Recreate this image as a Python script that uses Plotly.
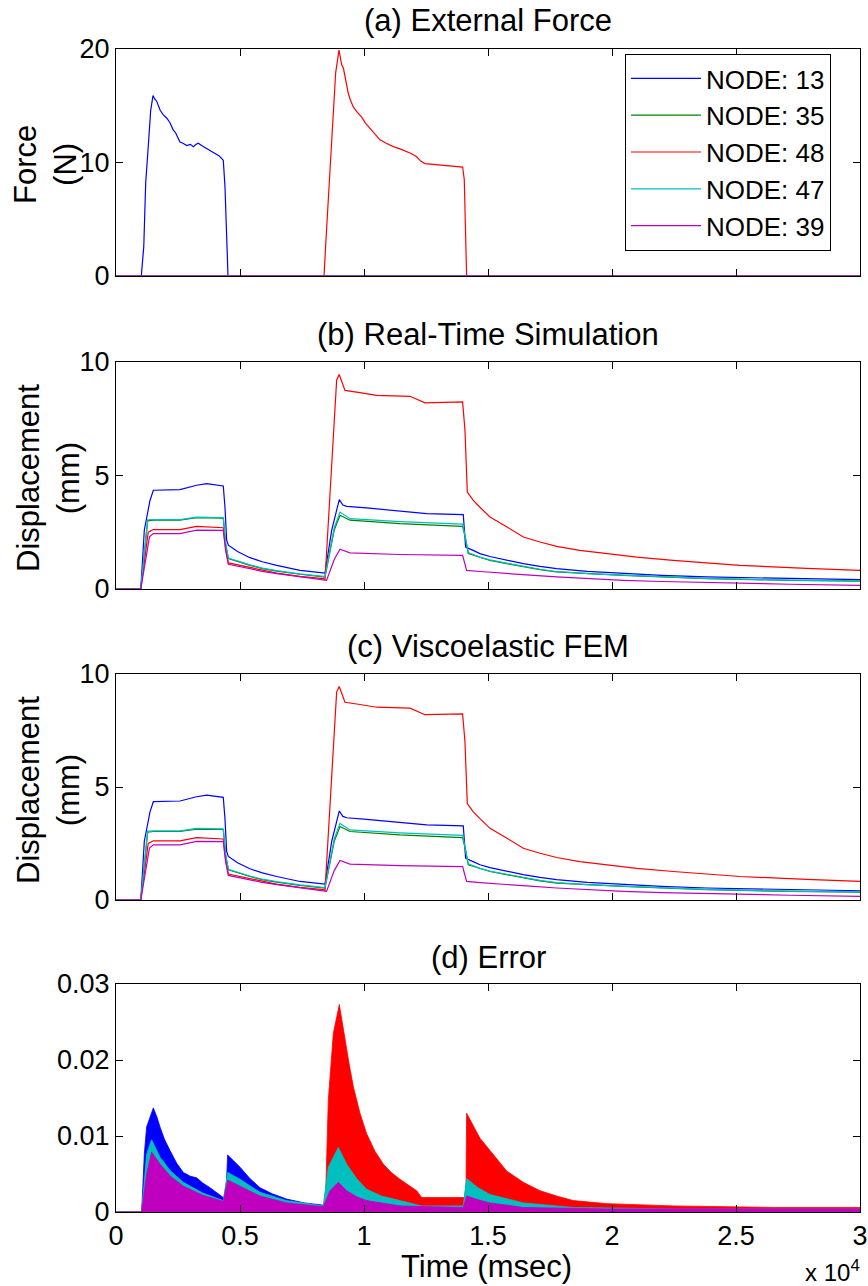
import plotly.graph_objects as go

# ---------------- data ----------------
nodes = ["NODE: 13", "NODE: 35", "NODE: 48", "NODE: 47", "NODE: 39"]
colors = ["rgb(0,0,255)", "rgb(0,128,0)", "rgb(255,0,0)", "rgb(0,191,191)", "rgb(191,0,191)"]

x_tickvals = [0, 5000, 10000, 15000, 20000, 25000, 30000]
x_ticktext = ["0", "0.5", "1", "1.5", "2", "2.5", "3"]

# (a) external force (N)
t_force_13 = [0, 1020, 1120, 1197, 1303, 1399, 1492, 1560, 1641, 1780, 1908, 2050, 2177, 2300, 2406, 2500,
              2580, 2700, 2850, 3000, 3118, 3230, 3319, 3450, 3656, 3800, 3992, 4150, 4326, 4394, 4463,
              4516, 30000]
force_13 = [0, 0, 2.6, 8.2, 11.5, 14.6, 15.9, 15.6, 15.4, 14.6, 14.2, 13.9, 13.5, 12.9, 12.6, 12.1,
            11.8, 11.7, 11.5, 11.6, 11.4, 11.6, 11.7, 11.5, 11.25, 11.1, 10.8, 10.6, 10.2, 7.9, 4.05,
            0, 0]
t_force_48 = [0, 8387, 8467, 8560, 8656, 8762, 8857, 8991, 9040, 9100, 9170, 9233, 9300, 9367, 9450, 9568,
              9700, 9907, 10050, 10241, 10450, 10644, 10900, 11181, 11450, 11719, 11900, 12122, 12300,
              12458, 12700, 13064, 13300, 13601, 13976, 14043, 14098, 14138, 30000]
force_48 = [0, 0, 3.2, 6.7, 10.5, 14.9, 17.9, 19.9, 19.3, 18.6, 18.3, 17.6, 16.7, 16.1, 15.5, 14.9,
            14.5, 14.0, 13.5, 13.0, 12.5, 12.0, 11.7, 11.4, 11.2, 10.95, 10.8, 10.5, 10.1,
            9.9, 9.85, 9.8, 9.75, 9.7, 9.6, 8.5, 4.6, 0, 0]
t_force_zero = [0, 30000]
force_zero = [0, 0]

# (b) real-time simulation displacement (mm)
t_rt_13 = [0, 1000, 1142, 1371, 1505, 2580, 3252, 3656, 4326, 4394, 4463, 4530, 4900, 5402, 5900, 6479,
           7420, 8360, 8427, 8700, 9004, 9150, 9301, 10107, 11451, 12526, 14003, 14098, 14400, 14676,
           15080, 15751, 16424, 17096, 17767, 19000, 20455, 22000, 23815, 27175, 30000]
rt_13 = [0, 0, 2.6, 3.9, 4.35, 4.38, 4.57, 4.64, 4.54, 3.6, 2.15, 1.93, 1.65, 1.38, 1.2, 1.04,
         0.82, 0.70, 0.70, 2.6, 3.94, 3.7, 3.64, 3.57, 3.44, 3.32, 3.28, 1.85, 1.7, 1.56,
         1.43, 1.26, 1.12, 1.0, 0.90, 0.78, 0.68, 0.60, 0.53, 0.46, 0.41]
t_rt_35 = [0, 1000, 1277, 1505, 2580, 3252, 4326, 4420, 4530, 4900, 5402, 5900, 6479, 7420, 8360, 8427,
           8800, 9032, 9435, 11451, 13976, 14100, 14205, 14676, 15080, 15751, 16424, 17096, 17767, 19000,
           20455, 22000, 23815, 27175, 30000]
rt_35 = [0, 0, 3.0, 3.03, 3.03, 3.14, 3.12, 2.0, 1.34, 1.2, 1.04, 0.9, 0.79, 0.65, 0.53, 0.53,
         2.6, 3.25, 3.03, 2.88, 2.76, 2.2, 1.56, 1.38, 1.26, 1.12, 0.98, 0.85, 0.75, 0.67,
         0.60, 0.53, 0.46, 0.38, 0.35]
t_rt_48 = [0, 1000, 1300, 1505, 2580, 3252, 4326, 4420, 4530, 4900, 5402, 5900, 6479, 7420, 8360, 8427,
           8696, 8897, 9000, 9233, 9838, 10510, 11854, 12459, 13976, 14071, 14165, 14407, 14676, 15080,
           15751, 16424, 17096, 17767, 18700, 19784, 21000, 22471, 23800, 25158, 27846, 30000]
rt_48 = [0, 0, 2.5, 2.62, 2.62, 2.76, 2.70, 1.8, 1.15, 1.06, 0.97, 0.82, 0.70, 0.56, 0.46, 0.41,
         5.5, 9.2, 9.45, 8.75, 8.65, 8.53, 8.49, 8.2, 8.24, 7.0, 4.27, 3.9, 3.6, 3.17,
         2.74, 2.29, 2.07, 1.88, 1.7, 1.56, 1.4, 1.26, 1.15, 1.04, 0.91, 0.82]
t_rt_47 = [0, 1000, 1277, 1505, 2580, 3252, 4326, 4420, 4530, 4900, 5402, 5900, 6479, 7420, 8360, 8427,
           8800, 9032, 9435, 11451, 13976, 14100, 14205, 14676, 15080, 15751, 16424, 17096, 17767, 19000,
           20455, 22000, 23815, 27175, 30000]
rt_47 = [0, 0, 3.05, 3.06, 3.06, 3.17, 3.15, 2.0, 1.36, 1.22, 1.06, 0.92, 0.81, 0.67, 0.55, 0.55,
         2.7, 3.39, 3.10, 2.97, 2.86, 2.2, 1.60, 1.40, 1.28, 1.14, 1.0, 0.87, 0.77, 0.68,
         0.61, 0.54, 0.47, 0.39, 0.36]
t_rt_39 = [0, 1000, 1350, 1505, 2580, 3252, 4326, 4420, 4530, 4900, 5402, 5900, 6479, 7420, 8360, 8490,
           8800, 9032, 9435, 11451, 13976, 14138, 14676, 15751, 16700, 17767, 19000, 20455, 22000, 23815,
           27175, 30000]
rt_39 = [0, 0, 2.3, 2.44, 2.44, 2.59, 2.58, 1.7, 1.09, 1.0, 0.90, 0.78, 0.68, 0.53, 0.38, 0.38,
         1.3, 1.75, 1.59, 1.52, 1.48, 0.82, 0.77, 0.70, 0.61, 0.53, 0.45, 0.38, 0.33, 0.28,
         0.21, 0.16]

# (c) viscoelastic FEM displacement (mm) -- visually identical to (b)
t_fem_13, fem_13 = list(t_rt_13), list(rt_13)
t_fem_35, fem_35 = list(t_rt_35), list(rt_35)
t_fem_48, fem_48 = list(t_rt_48), list(rt_48)
t_fem_47, fem_47 = list(t_rt_47), list(rt_47)
t_fem_39, fem_39 = list(t_rt_39), list(rt_39)

# (d) error (envelopes)
t_err_13 = [0, 1035, 1142, 1236, 1505, 1650, 1774, 1950, 2177, 2450, 2715, 3000, 3252, 3500, 3790, 4050,
            4326, 4420, 4503, 4750, 5000, 5400, 5806, 6300, 6882, 7600, 8360, 8440, 8561, 9005, 9569,
            10106, 11451, 14003, 14138, 15751, 18440, 22471, 30000]
err_13 = [0, 0, 0.0076, 0.0112, 0.0137, 0.0125, 0.0112, 0.0096, 0.0081, 0.0064, 0.0052, 0.0047, 0.0045,
          0.0038, 0.0032, 0.0026, 0.0019, 0.0015, 0.0075, 0.0067, 0.0059, 0.0044, 0.0032, 0.0024, 0.0017,
          0.0012, 0.0009, 0.0006, 0.0030, 0.0060, 0.0040, 0.0025, 0.0012, 0.0008, 0.0030, 0.0012, 0.0006,
          0.0004, 0.0004]
t_err_35 = [0, 1035, 1236, 1435, 1774, 2200, 2715, 3500, 4326, 4503, 5000, 5806, 6882, 8360, 8561, 8965,
            9300, 9700, 10106, 10700, 11451, 12325, 14003, 14138, 14600, 15080, 16424, 18440, 22471, 30000]
err_35 = [0, 0, 0.0072, 0.0090, 0.0068, 0.0051, 0.0037, 0.0024, 0.0014, 0.0049, 0.0041, 0.0024, 0.0014,
          0.0007, 0.0055, 0.0080, 0.0060, 0.0042, 0.0028, 0.0020, 0.0014, 0.0007, 0.0007, 0.0041, 0.0030,
          0.0021, 0.0011, 0.0005, 0.0003, 0.0003]
t_err_48 = [0, 1035, 1236, 1435, 1774, 2715, 4326, 4503, 5000, 5806, 6882, 8360, 8440, 8561, 8763, 9005,
            9233, 9400, 9569, 9838, 10106, 10440, 10778, 11100, 11451, 11800, 12123, 12325, 14003, 14110,
            14138, 14407, 14676, 15080, 15751, 16424, 17096, 17767, 18440, 19784, 22471, 26502, 30000]
err_48 = [0, 0, 0.0060, 0.0075, 0.0060, 0.0033, 0.0014, 0.0040, 0.0033, 0.0020, 0.0012, 0.0007, 0.0007,
          0.0147, 0.0235, 0.0273, 0.0226, 0.0195, 0.0165, 0.0130, 0.0103, 0.0080, 0.0063, 0.0052, 0.0043,
          0.0035, 0.0028, 0.0019, 0.0019, 0.0019, 0.0130, 0.0113, 0.0097, 0.0081, 0.0054, 0.0039, 0.0028,
          0.0021, 0.0015, 0.0011, 0.0008, 0.0006, 0.0006]
t_err_47 = [0, 1035, 1236, 1435, 1774, 2200, 2715, 3500, 4326, 4503, 5000, 5806, 6882, 8360, 8561, 8965,
            9300, 9700, 10106, 10700, 11451, 12325, 14003, 14138, 14600, 15080, 16424, 18440, 22471, 30000]
err_47 = [0, 0, 0.0076, 0.0095, 0.0072, 0.0054, 0.0039, 0.0025, 0.0015, 0.0052, 0.0043, 0.0026, 0.0015,
          0.0008, 0.0059, 0.0085, 0.0063, 0.0044, 0.0030, 0.0021, 0.0015, 0.0008, 0.0008, 0.0044, 0.0032,
          0.0023, 0.0012, 0.0006, 0.0004, 0.0004]
t_err_39 = [0, 1035, 1236, 1435, 1774, 2200, 2715, 3500, 4326, 4503, 5000, 5806, 6882, 8360, 8629, 8965,
            9300, 9700, 10106, 11451, 14003, 14138, 14600, 15080, 16424, 19784, 30000]
err_39 = [0, 0, 0.0050, 0.0079, 0.0063, 0.0047, 0.0034, 0.0022, 0.0014, 0.0042, 0.0034, 0.0021, 0.0012,
          0.0007, 0.0028, 0.0039, 0.0028, 0.0020, 0.0015, 0.0008, 0.0006, 0.0021, 0.0016, 0.0012, 0.0006,
          0.0004, 0.0004]

titles = ["(a) External Force", "(b) Real-Time Simulation", "(c) Viscoelastic FEM", "(d) Error"]

# ---------------- layout helpers ----------------
W, H = 868, 1286
ML, MR = 116, 8
FONT = "Liberation Sans, Arial, sans-serif"


def py(p):
    return 1 - p / H


def px(p):
    return (p - ML) / (W - ML - MR)


plot_tops = [49, 362, 674, 984]
plot_bots = [276, 589, 900, 1212]

fig = go.Figure()

force_sets = [(t_force_13, force_13), (t_force_zero, force_zero), (t_force_48, force_48),
              (t_force_zero, force_zero), (t_force_zero, force_zero)]
rt_sets = [(t_rt_13, rt_13), (t_rt_35, rt_35), (t_rt_48, rt_48), (t_rt_47, rt_47), (t_rt_39, rt_39)]
fem_sets = [(t_fem_13, fem_13), (t_fem_35, fem_35), (t_fem_48, fem_48), (t_fem_47, fem_47), (t_fem_39, fem_39)]
err_sets = [(t_err_13, err_13), (t_err_35, err_35), (t_err_48, err_48), (t_err_47, err_47), (t_err_39, err_39)]

for i, (tx, vy) in enumerate(force_sets):
    fig.add_trace(go.Scatter(x=tx, y=vy, mode="lines", name=nodes[i],
                             line=dict(color=colors[i], width=1.2),
                             xaxis="x", yaxis="y", showlegend=True))
for k, sets in enumerate([rt_sets, fem_sets]):
    for i, (tx, vy) in enumerate(sets):
        fig.add_trace(go.Scatter(x=tx, y=vy, mode="lines", name=nodes[i],
                                 line=dict(color=colors[i], width=1.2),
                                 xaxis="x%d" % (k + 2), yaxis="y%d" % (k + 2), showlegend=False))
for i, (tx, vy) in enumerate(err_sets):
    fig.add_trace(go.Scatter(x=tx, y=vy, mode="lines", name=nodes[i],
                             line=dict(color=colors[i], width=0.8), fill="tozeroy",
                             fillcolor=colors[i],
                             xaxis="x4", yaxis="y4", showlegend=False))

y_ranges = [[0, 20], [0, 10], [0, 10], [0, 0.03]]
y_ticks = [[0, 10, 20], [0, 5, 10], [0, 5, 10], [0, 0.01, 0.02, 0.03]]
y_ticktext = [["0", "10", "20"], ["0", "5", "10"], ["0", "5", "10"], ["0", "0.01", "0.02", "0.03"]]

layout = dict(
    width=W, height=H,
    margin=dict(l=ML, r=MR, t=0, b=0, pad=0),
    paper_bgcolor="white", plot_bgcolor="white",
    font=dict(family=FONT, size=27, color="black"),
    showlegend=True,
    legend=dict(x=px(625), y=py(54), xanchor="left", yanchor="top",
                bgcolor="white", bordercolor="black", borderwidth=1,
                font=dict(family=FONT, size=26, color="black"),
                tracegroupgap=0, itemwidth=70),
)

for k in range(4):
    sx = "" if k == 0 else str(k + 1)
    layout["xaxis" + sx] = dict(
        domain=[0, 1], anchor="y" + sx, range=[0, 30000],
        tickvals=x_tickvals, ticktext=x_ticktext, showticklabels=(k == 3),
        ticks="inside", ticklen=7, tickwidth=1, tickcolor="black",
        showline=True, linecolor="black", linewidth=1, mirror="ticks",
        showgrid=False, zeroline=False, automargin=False,
        tickfont=dict(family=FONT, size=27, color="black"),
    )
    layout["yaxis" + sx] = dict(
        domain=[py(plot_bots[k]), py(plot_tops[k])], anchor="x" + sx,
        range=y_ranges[k], tickvals=y_ticks[k], ticktext=y_ticktext[k],
        ticks="inside", ticklen=7, tickwidth=1, tickcolor="black",
        showline=True, linecolor="black", linewidth=1, mirror="ticks",
        showgrid=False, zeroline=False, automargin=False,
        tickfont=dict(family=FONT, size=27, color="black"),
        ticklabelstandoff=0,
    )

annotations = []
title_centers = [21, 334, 646, 957]
for k in range(4):
    annotations.append(dict(text=titles[k], x=0.5, y=py(title_centers[k]), xref="paper", yref="paper",
                            xanchor="center", yanchor="middle", showarrow=False,
                            font=dict(family=FONT, size=31, color="black")))
annotations.append(dict(text="Force<br>(N)", x=px(45), y=py(165), xref="paper", yref="paper",
                        xanchor="center", yanchor="middle", textangle=-90, showarrow=False,
                        font=dict(family=FONT, size=31, color="black")))
for yc in [478, 790]:
    annotations.append(dict(text="Displacement<br>(mm)", x=px(48), y=py(yc), xref="paper", yref="paper",
                            xanchor="center", yanchor="middle", textangle=-90, showarrow=False,
                            font=dict(family=FONT, size=31, color="black")))
annotations.append(dict(text="Time (msec)", x=px(486), y=py(1266), xref="paper", yref="paper",
                        xanchor="center", yanchor="middle", showarrow=False,
                        font=dict(family=FONT, size=31, color="black")))
annotations.append(dict(text="x 10<sup>4</sup>", x=px(862), y=py(1271), xref="paper", yref="paper",
                        xanchor="right", yanchor="middle", showarrow=False,
                        font=dict(family=FONT, size=24, color="black")))
layout["annotations"] = annotations

fig.update_layout(**layout)
fig.write_html("out.html",
               config={"displayModeBar": False},
               post_script="document.body.style.margin='0';document.body.style.padding='0';"
                           "document.documentElement.style.overflow='hidden';")
